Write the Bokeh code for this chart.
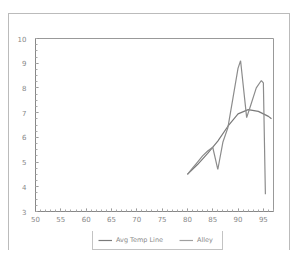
from bokeh.plotting import figure
from bokeh.embed import file_html
from bokeh.resources import INLINE
from bokeh.layouts import column
from bokeh.models import Legend, LegendItem, FixedTicker, Range1d

# Data
alley_x = [80, 81, 82, 83, 84, 85, 86, 87, 88, 89, 90, 90.5, 91.7, 92.5, 93.6, 94.6, 95.0, 95.4]
alley_y = [4.5, 4.75, 5.0, 5.25, 5.45, 5.6, 4.7, 5.8, 6.4, 7.6, 8.8, 9.1, 6.8, 7.3, 8.0, 8.3, 8.2, 3.7]
avg_x = [80, 82, 84, 86, 88, 90, 92, 94, 96, 96.6]
avg_y = [4.5, 4.9, 5.35, 5.85, 6.45, 6.95, 7.12, 7.05, 6.85, 6.75]
x_ticks = [50, 55, 60, 65, 70, 75, 80, 85, 90, 95]
y_ticks = [3, 4, 5, 6, 7, 8, 9, 10]
series_labels = ["Avg Temp Line", "Alley"]

p = figure(width=280, height=217, output_backend="svg", toolbar_location=None,
           x_range=Range1d(50, 97), y_range=Range1d(3, 10),
           min_border_left=26, min_border_right=16, min_border_top=24, min_border_bottom=20,
           background_fill_color="white", border_fill_color="white")
p.grid.visible = False
p.outline_line_color = "#999999"
p.outline_line_width = 1

for ax in (p.xaxis[0], p.yaxis[0]):
    ax.axis_line_color = "#888888"
    ax.major_tick_line_color = "#888888"
    ax.minor_tick_line_color = "#aaaaaa"
    ax.major_label_text_color = "#888888"
    ax.major_label_text_font_size = "7px"
    ax.major_label_text_font = "DejaVu Sans"
    ax.major_tick_in = 3
    ax.major_tick_out = 0
    ax.minor_tick_in = 2
    ax.minor_tick_out = 0

p.xaxis.ticker = FixedTicker(ticks=x_ticks, minor_ticks=list(range(50, 98)))
p.yaxis.ticker = FixedTicker(ticks=y_ticks, minor_ticks=[3 + 0.25 * i for i in range(29)])
p.xaxis.major_label_standoff = 4
p.yaxis.major_label_standoff = 9

r_avg = p.line(avg_x, avg_y, line_color="#7a7a7a", line_width=1.2)
r_alley = p.line(alley_x, alley_y, line_color="#8c8c8c", line_width=1.2)

# Legend strip below the chart
q = figure(width=280, height=19, output_backend="svg", toolbar_location=None,
           x_range=Range1d(0, 1), y_range=Range1d(0, 1),
           x_axis_location=None, y_axis_location=None,
           min_border_left=0, min_border_right=0, min_border_top=0, min_border_bottom=0,
           background_fill_color="white", border_fill_color="white")
q.grid.visible = False
q.outline_line_color = None
l1 = q.line([-5, -4], [-5, -4], line_color="#7a7a7a", line_width=1.2)
l2 = q.line([-5, -4], [-5, -4], line_color="#a0a0a0", line_width=1.2)
legend = Legend(items=[LegendItem(label=series_labels[0], renderers=[l1]),
                       LegendItem(label=series_labels[1], renderers=[l2])],
                orientation="horizontal", location=(57, 0),
                label_text_font_size="6.5px", label_text_color="#888888",
                label_text_font="DejaVu Sans",
                border_line_color="#888888", padding=5, spacing=16,
                glyph_width=14, glyph_height=8, label_height=8, label_standoff=4,
                margin=0, background_fill_color="white")
q.add_layout(legend, "center")

layout = column(p, q, spacing=0)
layout.styles = {"border": "1px solid #bbbbbb", "border-bottom": "none",
                 "margin-left": "8px", "margin-top": "13px"}

open("out.html", "w").write(file_html(layout, INLINE))
